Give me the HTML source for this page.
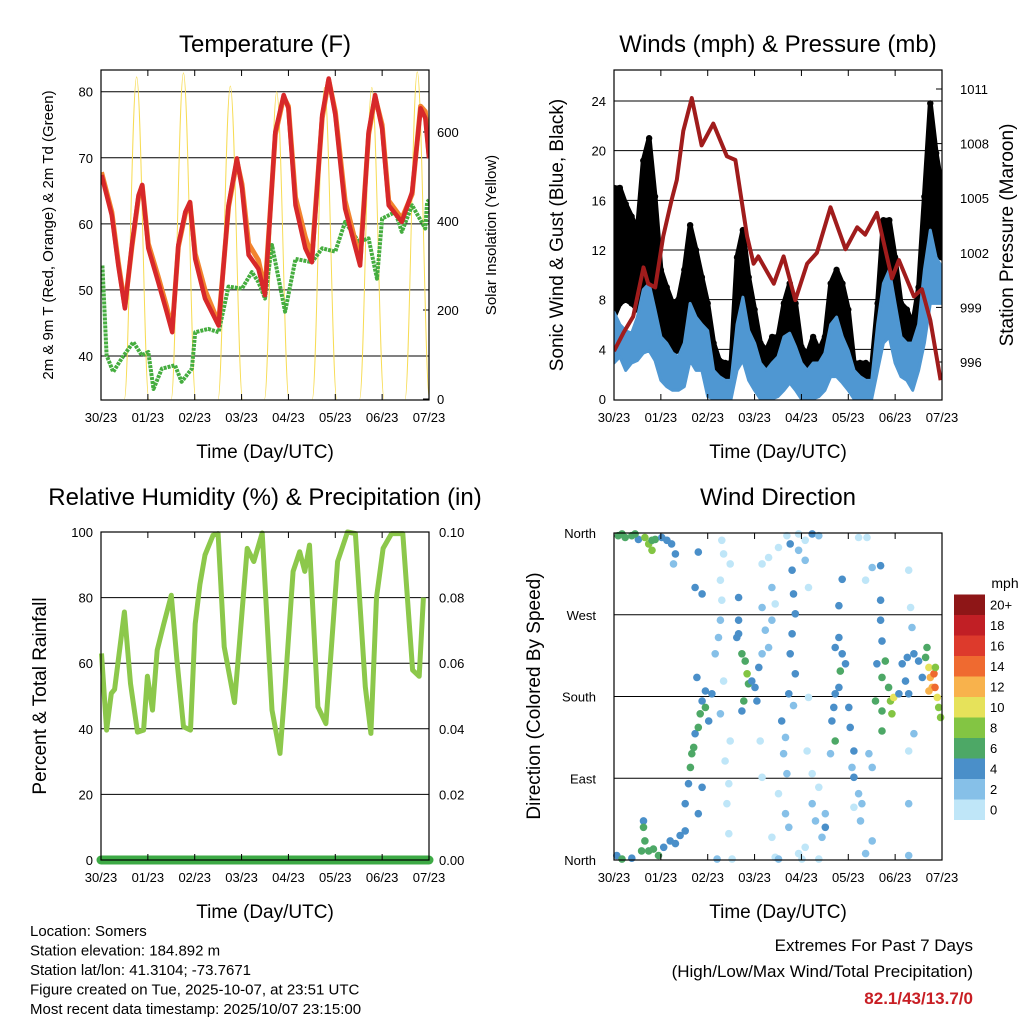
<!DOCTYPE html>
<html><head><meta charset="utf-8"><style>
body{margin:0;background:#fff}
svg{display:block;font-family:"Liberation Sans",sans-serif}
</style></head><body>
<svg id="s" width="1024" height="1024" viewBox="0 0 1024 1024" xmlns="http://www.w3.org/2000/svg"></svg>
<script>
// ---------- DATA ----------
const dayTicks = ["30/23","01/23","02/23","03/23","04/23","05/23","06/23","07/23"];
// Temperature (F)
const tDays = [0.01,0.23,0.37,0.51,0.66,0.80,0.88,1.01,1.22,1.40,1.52,1.65,1.80,1.90,2.01,2.22,2.51,2.72,2.90,3.01,3.15,3.36,3.50,3.72,3.90,4.0,4.15,4.36,4.50,4.72,4.86,5.00,5.21,5.53,5.71,5.85,6.0,6.14,6.42,6.64,6.82,6.92,7.0];
const temp2m = [67.4,61.3,53.7,47.2,56.8,64.3,65.9,56.3,51.2,46.7,43.6,56.8,61.8,63.3,54.7,48.7,44.6,62.8,69.9,65.4,55.3,53.2,49.2,73.9,79.5,77.5,62.8,56.3,54.2,76.5,82,76.5,62.3,53.7,73.9,79.5,74.4,62.8,60.3,64.8,77.5,76,69.9];
const temp9m = [67.8,61.8,54.2,47.5,56.5,64,65.8,57,52,47.5,44,56.5,61.5,63.2,55.5,50,45,62.5,69.5,66,57,54.5,50,73.5,79.2,77.8,64,58,55,76,81.8,77,63.5,54.5,73.5,79.2,75,63.5,60.8,64.5,77.8,77,70.5];
const dDays = [0.03,0.12,0.26,0.44,0.69,0.87,1.01,1.12,1.3,1.58,1.72,1.94,2.01,2.29,2.51,2.72,3.01,3.22,3.36,3.5,3.65,3.93,4.15,4.5,4.72,5.0,5.21,5.5,5.71,5.89,6.0,6.28,6.42,6.64,6.92,6.96,7.0];
const dewpt = [53.7,40.1,37.6,39.6,42.1,40.1,40.6,35,38.1,38.6,36.1,38.1,43.6,44.1,43.6,50.5,50.2,52.7,51.2,48.7,56.8,46.7,54.7,54.2,56.3,55.8,60.3,57.3,57.8,51.7,60.8,61.8,58.8,62.8,59.3,63.3,63.6];
const solarPeakDay = [0.76,1.76,2.76,3.75,4.77,5.78,6.75];
const solarPeak = [724,733,703,690,700,700,735];
const tempTicks = [40,50,60,70,80];
const solarTicks = [0,200,400,600];
// Winds
const wDays = [0,0.125,0.25,0.375,0.5,0.625,0.75,0.875,1,1.125,1.25,1.375,1.5,1.625,1.75,1.875,2,2.125,2.25,2.375,2.5,2.625,2.75,2.875,3,3.125,3.25,3.375,3.5,3.625,3.75,3.875,4,4.125,4.25,4.375,4.5,4.625,4.75,4.875,5,5.125,5.25,5.375,5.5,5.625,5.75,5.875,6,6.125,6.25,6.375,6.5,6.625,6.75,6.875,7];
const gustHi = [17,17,15.7,14.7,13.6,19.2,21,16.3,10.4,9,7.7,8,10.4,14,12,9.8,7.7,4.5,3.1,2.9,2.9,11.4,13.6,9.8,7.2,4.5,3.9,5,5,7.7,9.3,7.7,4.2,3.6,5,3.9,5,9.3,10.4,9.3,7.2,2.9,2.9,2.9,2.6,7.7,14.4,14.4,11.4,7.7,7.2,6,9,16.3,23.8,19.8,17];
const gustLo = [6.6,7.7,8,7.7,7.2,9,9.8,7.7,5,4.5,3.7,3.9,5,7.7,6.4,6,2.9,2.3,1.5,1.5,1.5,5,6,4.5,2.9,1.8,1.8,2.3,2.3,3.4,4.5,3.4,1.8,1.8,2.1,1.8,2.3,4.5,5,3.4,2.9,1.5,1.5,1.5,1.5,3.7,7.2,7.7,5,2.9,3.4,2.9,3.9,7.7,10.4,11.4,11.4];
const speedHi = [7,6,5.5,5.3,6.6,8.8,9.3,7.2,5,4.5,3.7,3.4,4.5,7.7,6.6,6,5.5,2.3,1.8,1.5,1.5,6,8.2,5.5,4.5,2.9,2.3,2.9,3.4,5,5.3,4.2,2.9,2.3,2.9,2.9,3.7,6,6.6,5,3.9,2.3,1.8,1.5,1.5,6,9.3,10.4,7.7,5,4.5,4.5,6,10.4,13.6,11.4,10.6];
const speedLo = [2.9,3.4,2.3,2.9,3.1,3.7,3.9,3.1,1.5,1,0.7,0.7,1,3.1,2.3,2.3,0.2,0,0,0,0,2.3,3.1,1.5,0.7,0,0,0,0.2,0.7,1.3,0.7,0,0,0,0.2,0.7,1.8,1.8,1.3,0.7,0,0,0,0,2.3,4.5,5,2.9,1.8,1.5,0.7,2.3,4.5,7.7,7.7,7.7];
const pDays = [0,0.2,0.41,0.63,0.73,0.88,1.05,1.23,1.34,1.48,1.66,1.87,2.12,2.41,2.59,2.84,2.98,3.08,3.41,3.62,3.87,4.12,4.33,4.62,4.94,5.19,5.36,5.61,5.93,6.08,6.4,6.57,6.75,6.97];
const pressure = [996.6,997.6,998.5,1001.2,1000.3,1000.1,1002.9,1004.9,1006,1008.7,1010.5,1007.9,1009.1,1007.3,1007.1,1002.9,1001.4,1001.8,1000.3,1001.8,999.4,1001.4,1002,1004.5,1002.2,1003.4,1003,1004.2,1000.6,1001.6,999.6,1000,998.3,995];
const windTicks = [0,4,8,12,16,20,24];
const presTicks = [996,999,1002,1005,1008,1011];
// RH
const rhDays = [0.01,0.12,0.22,0.29,0.50,0.63,0.78,0.91,0.99,1.10,1.20,1.34,1.50,1.62,1.76,1.91,2.01,2.11,2.22,2.39,2.50,2.63,2.85,2.95,3.12,3.26,3.44,3.65,3.82,3.93,4.10,4.24,4.35,4.45,4.63,4.80,5.05,5.26,5.43,5.64,5.76,5.88,6.02,6.20,6.44,6.65,6.79,6.88];
const rh = [63,39.6,50.8,52,75.6,53.8,39,39.6,56,45.7,64,72,80.7,61,40.6,39.6,72,84,93,99,99.5,65,48,65,95,91,99.7,45.7,32.5,52.8,88,94,88,96,46.7,41.6,91,100,99.5,52.8,38.6,80,95,99.5,99.5,57.9,56,80];
const precipDays = [0,7];
const precip = [0,0];
const rhTicks = [0,20,40,60,80,100];
const precipTicks = ["0.00","0.02","0.04","0.06","0.08","0.10"];
// Wind direction
const wdDay = [0.09,0.24,0.38,0.52,0.66,0.74,0.81,0.88,1.02,1.13,1.23,1.31,1.27,0.45,0.17,0.81,
0.06,0.17,0.38,0.59,0.63,0.66,0.74,0.84,0.95,1.06,1.2,1.31,1.41,1.52,0.63,
1.52,1.59,1.63,1.66,1.7,1.73,1.80,1.84,1.88,1.95,1.95,2.02,2.09,1.77,1.88,1.80,1.73,1.88,1.80,
2.30,2.34,2.27,2.30,2.27,2.23,2.16,2.34,2.27,2.37,2.48,2.45,2.41,2.45,2.52,2.20,2.48,
2.66,2.66,2.62,2.73,2.80,2.84,2.87,2.77,2.94,3.01,3.05,3.09,2.73,2.66,
3.16,3.3,3.37,3.16,3.23,3.3,3.37,3.16,3.51,3.44,3.12,3.16,3.37,3.44,3.51,
3.58,3.66,3.62,3.69,3.66,3.73,3.51,3.8,3.83,3.87,3.8,3.76,3.87,3.73,3.83,3.76,3.94,3.69,
3.94,4.08,4.23,4.37,4.08,4.15,4.37,4.23,4.3,4.44,4.51,4.08,4.01,4.37,4.15,4.12,4.51,4.23,3.94,
4.8,4.72,4.87,4.83,4.8,4.72,4.69,4.65,4.72,4.62,5.01,5.04,5.12,5.12,5.08,4.8,4.87,4.94,
5.22,5.29,5.26,5.37,5.51,5.44,5.51,5.22,5.4,5.37,5.51,5.12,
5.69,5.69,5.69,5.72,5.61,5.72,5.79,5.86,5.9,5.93,5.97,5.72,5.58,5.72,
6.15,6.22,6.29,6.08,6.26,6.4,6.5,6.58,6.65,6.68,6.72,6.75,6.79,6.83,6.85,6.72,6.9,6.93,6.97,6.86,6.29,6.33,6.4,6.29,6.29,6.29,6.36];
const wdDir = [357,355,357,353,355,348,352,353,355,352,348,337,326,359,359,341,
5,1,2,10,43,21,10,12,5,14,21,18,27,32,36,
62,84,102,117,124,139,146,161,175,186,168,153,183,201,80,51,300,293,339,
352,337,308,286,264,245,227,197,161,109,131,84,62,29,1,1,326,
289,264,245,227,219,205,194,175,197,190,175,212,164,249,
326,333,300,278,253,234,264,227,344,282,131,91,25,3,73,
153,135,117,95,51,36,1,319,293,271,249,227,205,183,170,348,341,357,
359,352,359,357,330,300,80,62,43,25,51,14,1,1,179,120,36,95,7,
245,234,227,208,190,183,168,153,131,117,168,146,120,91,102,280,309,216,
73,62,43,7,21,117,102,355,355,308,322,58,
324,286,264,241,216,201,219,190,175,161,179,142,175,164,
216,197,183,183,223,227,219,201,223,234,212,201,190,205,190,186,179,168,157,212,319,278,139,120,62,5,256];
const wdSpd = [5,6,5,4,8,8,6,5,4,4,3,3,2,6,6,7,
4,5,4,6,4,5,6,6,5,3,4,4,3,3,6,
3,4,5,6,5,4,6,5,4,4,6,3,3,3,3,3,4,3,4,
0,0,0,0,1,1,2,0,1,0,0,0,0,0,0,1,0,
4,4,4,6,6,7,6,6,4,4,4,4,4,4,
0,0,1,1,2,2,2,1,0,0,0,0,0,0,0,
3,2,2,2,2,1,1,4,4,3,4,4,4,3,1,4,2,0,
0,0,4,1,1,0,0,2,2,1,2,0,0,0,0,0,3,0,0,
4,3,4,6,4,4,4,3,6,2,4,4,3,4,1,4,3,4,
1,1,2,1,1,1,1,0,0,0,1,0,
4,4,4,4,4,6,6,6,8,8,9,6,6,6,
4,4,4,3,4,3,4,4,6,6,10,12,12,14,14,12,10,8,7,8,0,0,1,0,1,1,1];
const dirTicks = ["North","East","South","West","North"];
const speedBins = ["0","2","4","6","8","10","12","14","16","18","20+"];
const speedColors = ["#bfe6f8","#86c0e8","#4a8fc9","#4da866","#83c543","#e6e25a","#f8b24c","#ef6a30","#dd3a2c","#c11f25","#8e1617"];

// ---------- HELPERS ----------
const NS="http://www.w3.org/2000/svg";
const svg=document.getElementById('s');
function mk(tag,attrs,parent){const e=document.createElementNS(NS,tag);for(const k in attrs)e.setAttribute(k,attrs[k]);(parent||svg).appendChild(e);return e;}
function txt(str,x,y,size,anchor,parent,rot){const e=mk('text',{x:x,y:y,'font-size':size,'text-anchor':anchor||'middle',fill:'#000'},parent);if(rot)e.setAttribute('transform','rotate('+rot+' '+x+' '+y+')');e.textContent=str;return e;}
function lin(d0,d1,r0,r1){return v=>r0+(v-d0)*(r1-r0)/(d1-d0);}
function pathOf(xs,ys,fx,fy){return xs.map((d,i)=>(i?'L':'M')+fx(d).toFixed(1)+','+fy(ys[i]).toFixed(1)).join(' ');}

function frame(g,X0,X1,Y0,Y1,fx){
  const xs=[0,1,2,3,4,5,6,7];
  xs.forEach((d,i)=>{
    const x=fx(d);
    const t1=mk('line',{x1:x,x2:x,y1:Y1,y2:Y1-6,stroke:'#000','stroke-width':1},g);
    
    
    mk('line',{x1:x,x2:x,y1:Y0,y2:Y0+6,stroke:'#000','stroke-width':1},g);
    const l=txt(dayTicks[i],x,Y1+22,13,'middle',g);
    
    
  });
  const b=mk('rect',{x:X0,y:Y0,width:X1-X0,height:Y1-Y0,fill:'none',stroke:'#000','stroke-width':1.2},g);
  
  
}
function hgrid(g,X0,X1,y){const l=mk('line',{x1:X0,x2:X1,y1:y,y2:y,stroke:'#000','stroke-width':1},g);}

// ---------- PANEL 1: TEMPERATURE ----------
(function(){
  const g=mk('g',{});
  
  
  const X0=101,X1=429,Y0=70,Y1=400;
  const fx=lin(0,7,X0,X1), fy=lin(40,80,356,91.7), fs=lin(0,600,399,132);
  tempTicks.forEach(v=>{hgrid(g,X0,X1,fy(v));const l=txt(v,X0-8,fy(v)+5,13,'end',g);});
  solarTicks.forEach(v=>{const l=txt(v,X1+8,fs(v)+5,13,'start',g);mk('line',{x1:X1,x2:X1-6,y1:fs(v),y2:fs(v),stroke:'#000'},g);});
  const cp=mk('clipPath',{id:'c1'},g);mk('rect',{x:X0,y:Y0,width:X1-X0,height:Y1-Y0},cp);
  const cg=mk('g',{'clip-path':'url(#c1)'},g);
  solarPeakDay.forEach((pd,i)=>{
    const a=pd-0.26,b=pd+0.26,y0=fs(0),yp=fs(solarPeak[i]);
    const p=mk('path',{d:`M${fx(a)},${y0} C${fx(a+0.09)},${y0} ${fx(pd-0.1)},${yp} ${fx(pd)},${yp} C${fx(pd+0.1)},${yp} ${fx(b-0.09)},${y0} ${fx(b)},${y0}`,fill:'none',stroke:'#f7dc55','stroke-width':1},cg);
    
    
  });
  const dp=mk('path',{d:pathOf(dDays,dewpt,fx,fy),fill:'none',stroke:'#45ad3f','stroke-width':4,'stroke-dasharray':'3 1','stroke-linejoin':'round'},cg);
  
  
  const op=mk('path',{d:pathOf(tDays,temp9m,fx,fy),fill:'none',stroke:'#f2842e','stroke-width':5,'stroke-linejoin':'round'},cg);
  
  
  const rp=mk('path',{d:pathOf(tDays,temp2m,fx,fy),fill:'none',stroke:'#d7282a','stroke-width':4.5,'stroke-linejoin':'round'},cg);
  
  
  frame(g,X0,X1,Y0,Y1,fx);
  let t=txt('Temperature (F)',265,52,24,'middle',g);
  t=txt('Time (Day/UTC)',265,458,19,'middle',g);
  t=txt('2m & 9m T (Red, Orange) & 2m Td (Green)',53,235,15,'middle',g,-90);
  t=txt('Solar Insolation (Yellow)',496,235,15,'middle',g,-90);
})();

// ---------- PANEL 2: WINDS ----------
(function(){
  const g=mk('g',{});
  
  
  const X0=614,X1=942,Y0=70,Y1=400;
  const fx=lin(0,7,X0,X1), fy=lin(0,24,399,101), fp=lin(996,1011,362,89);
  windTicks.forEach(v=>{if(v>0)hgrid(g,X0,X1,fy(v));const l=txt(v,X0-8,fy(v)+5,13,'end',g);});
  presTicks.forEach(v=>{const l=txt(v,X1+18,fp(v)+5,13,'start',g);mk('line',{x1:X1,x2:X1-6,y1:fp(v),y2:fp(v),stroke:'#000'},g);});
  const cp=mk('clipPath',{id:'c2'},g);mk('rect',{x:X0,y:Y0,width:X1-X0,height:Y1-Y0},cp);
  const cg=mk('g',{'clip-path':'url(#c2)'},g);
  function band(hi,lo,color,name,sw){
    const up=wDays.map((d,i)=>(i?'L':'M')+fx(d).toFixed(1)+','+fy(hi[i]).toFixed(1));
    const dn=wDays.map((d,i)=>'L'+fx(d).toFixed(1)+','+fy(lo[i]).toFixed(1)).reverse();
    const p=mk('path',{d:up.join(' ')+' '+dn.join(' ')+' Z',fill:color,stroke:color,'stroke-width':sw,'stroke-linejoin':'round'},cg);
    
    
  }
  band(gustHi,gustLo,'#000','gust-band',5);
  wDays.forEach((d,i)=>{[gustHi[i],gustLo[i]].forEach(v=>{const c=mk('circle',{cx:fx(d),cy:fy(v),r:3.2,fill:'#000'},cg);});});
  band(speedHi,speedLo,'#4f97d2','wind-speed-band',3);
  const pp=mk('path',{d:pathOf(pDays,pressure,fx,fp),fill:'none',stroke:'#a01c1c','stroke-width':4,'stroke-linejoin':'round'},cg);
  
  
  frame(g,X0,X1,Y0,Y1,fx);
  let t=txt('Winds (mph) & Pressure (mb)',778,52,24,'middle',g);
  t=txt('Time (Day/UTC)',778,458,19,'middle',g);
  t=txt('Sonic Wind & Gust (Blue, Black)',563,235,19,'middle',g,-90);
  t=txt('Station Pressure (Maroon)',1013,235,19,'middle',g,-90);
})();

// ---------- PANEL 3: RH ----------
(function(){
  const g=mk('g',{});
  
  
  const X0=101,X1=429,Y0=532,Y1=860;
  const fx=lin(0,7,X0,X1), fy=lin(0,100,860,532), fq=lin(0,0.1,860,532);
  rhTicks.forEach((v,i)=>{if(v>0&&v<100)hgrid(g,X0,X1,fy(v));let l=txt(v,X0-8,fy(v)+5,13,'end',g);
    l=txt(precipTicks[i],X1+10,fy(v)+5,13,'start',g);});
  const rp=mk('path',{d:pathOf(rhDays,rh,fx,fy),fill:'none',stroke:'#8cc84b','stroke-width':5,'stroke-linejoin':'round'},g);
  
  
  const qp=mk('path',{d:pathOf(precipDays,precip,fx,fq),fill:'none',stroke:'#3daa45','stroke-width':9,'stroke-linecap':'round'},g);
  
  
  frame(g,X0,X1,Y0,Y1,fx);
  let t=txt('Relative Humidity (%) & Precipitation (in)',265,505,24,'middle',g);
  t=txt('Time (Day/UTC)',265,918,19,'middle',g);
  t=txt('Percent & Total Rainfall',46,696,19,'middle',g,-90);
})();

// ---------- PANEL 4: WIND DIRECTION ----------
(function(){
  const g=mk('g',{});
  
  
  const X0=614,X1=942,Y0=533,Y1=860;
  const fx=lin(0,7,X0,X1), fy=lin(0,360,860,533);
  dirTicks.forEach((n,i)=>{const y=fy(i*90);if(i>0&&i<4)hgrid(g,X0,X1,y);const l=txt(n,X0-18,y+5,13,'end',g);});
  wdDay.forEach((d,i)=>{
    const bin=Math.min(10,Math.floor(wdSpd[i]/2+0.5));
    const c=mk('circle',{cx:fx(d).toFixed(1),cy:fy(wdDir[i]).toFixed(1),r:3.8,fill:speedColors[bin]},g);
    
    
  });
  frame(g,X0,X1,Y0,Y1,fx);
  speedBins.forEach((b,i)=>{
    const y=820-(i+1)*20.5;
    const r=mk('rect',{x:954,y:y,width:31,height:20.5,fill:speedColors[i]},g);
    
    
    const l=txt(b,990,y+15,13,'start',g);
    
    
  });
  let t=txt('mph',1005,588,14,'middle',g);
  t=txt('Wind Direction',778,505,24,'middle',g);
  t=txt('Time (Day/UTC)',778,918,19,'middle',g);
  t=txt('Direction (Colored By Speed)',540,696,19,'middle',g,-90);
})();

// ---------- FOOTER ----------
(function(){
  const lines=["Location: Somers","Station elevation: 184.892 m","Station lat/lon: 41.3104; -73.7671","Figure created on Tue, 2025-10-07, at 23:51 UTC","Most recent data timestamp: 2025/10/07 23:15:00"];
  lines.forEach((s,i)=>{const t=txt(s,30,936+i*19.5,15,'start');});
  let t=txt('Extremes For Past 7 Days',973,951,17,'end');
  t=txt('(High/Low/Max Wind/Total Precipitation)',973,977,17,'end');
  t=txt('82.1/43/13.7/0',973,1004,17,'end');t.setAttribute('font-weight','bold');t.setAttribute('fill','#c81e24');
})();
</script>
</body></html>
